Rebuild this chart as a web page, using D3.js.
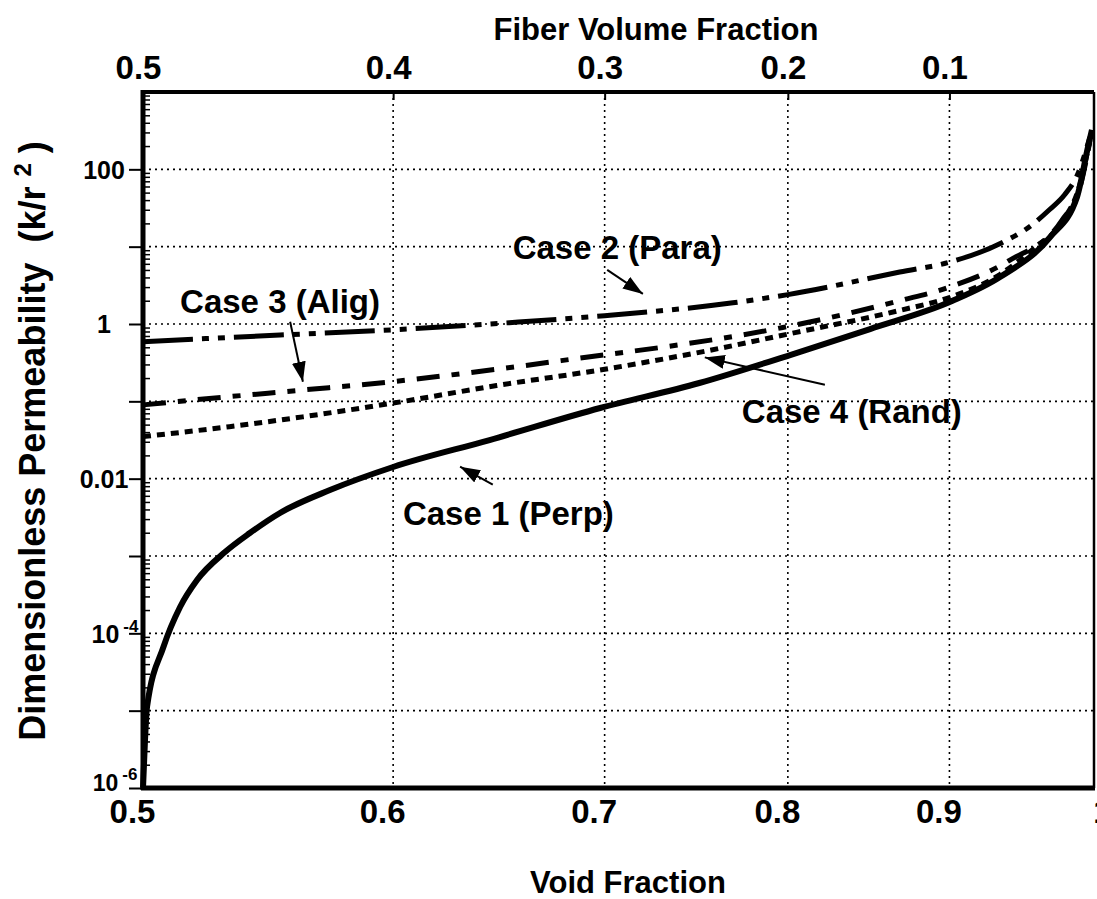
<!DOCTYPE html>
<html>
<head>
<meta charset="utf-8">
<script src="https://cdn.jsdelivr.net/npm/d3@7"></script>
<style>
  body { margin: 0; background: #fff; }
  svg { display: block; font-family: "Liberation Sans", Arial, Helvetica, sans-serif; font-weight: bold; }
  .grid line { stroke: #000; stroke-width: 1.6; stroke-dasharray: 2,4; }
  .curve { fill: none; stroke: #000; stroke-linejoin: round; }
  .axis path { display: none; }
  .axis line { stroke: #000; stroke-width: 2; }
  .axis text { fill: #000; font-family: "Liberation Sans", Arial, Helvetica, sans-serif; font-weight: bold; }
</style>
</head>
<body>
<svg id="chart" width="1097" height="899"></svg>
<script>
// Permeability vs. void fraction

// Case 1 (Perp) - solid
const case1Void = [0.5, 0.50073, 0.50146, 0.5075, 0.5137, 0.5201, 0.5308, 0.5405, 0.5525, 0.573, 0.60, 0.6437, 0.6977, 0.75, 0.8013, 0.8494, 0.9017, 0.9338, 0.9685, 0.9877, 0.9956, 0.9985];
const case1Perm = [1e-6, 4.17e-6, 1.11e-5, 6.65e-5, 2.19e-4, 4.89e-4, 1.125e-3, 1.98e-3, 3.6e-3, 7.13e-3, 0.01416, 0.0316, 0.082, 0.1726, 0.397, 0.861, 1.98, 4.05, 13.3, 43.9, 194, 323];

// Case 2 (Para) - dash dot dot
const case2Void = [0.5, 0.5525, 0.6, 0.653, 0.70, 0.7686, 0.80, 0.868, 0.90, 0.934, 0.9556, 0.968, 0.9788, 0.988, 0.997];
const case2Perm = [0.59, 0.72, 0.84, 1.04, 1.28, 1.88, 2.4, 4.7, 6.3, 11, 19, 30, 47, 85, 260];

// Case 3 (Alig) - dash dot
const case3Void = [0.5, 0.5325, 0.5617, 0.6, 0.647, 0.70, 0.7325, 0.797, 0.868, 0.90, 0.94, 0.977, 0.99, 0.997];
const case3Perm = [0.09, 0.115, 0.14, 0.18, 0.26, 0.40, 0.51, 0.9, 2.0, 3.0, 6.6, 22, 60, 230];

// Case 4 (Rand) - dotted
const case4Void = [0.5, 0.5325, 0.5617, 0.6, 0.647, 0.70, 0.75, 0.805, 0.868, 0.90, 0.934, 0.956, 0.976, 0.99, 0.997];
const case4Perm = [0.035, 0.047, 0.063, 0.095, 0.16, 0.26, 0.43, 0.78, 1.5, 2.2, 4.4, 9.1, 20, 66, 240];

// tick values and labels
const voidTicks = [0.5, 0.6, 0.7, 0.8, 0.9, 1];
const voidLabels = ['0.5', '0.6', '0.7', '0.8', '0.9', '1'];
const fiberTicks = [0.5, 0.6, 0.7, 0.8, 0.9];          // positions in void fraction
const fiberLabels = ['0.5', '0.4', '0.3', '0.2', '0.1'];
const permTicks = [1e-6, 1e-5, 1e-4, 1e-3, 1e-2, 1e-1, 1, 10, 100];
const permLabelBase = {'-6': '10', '-4': '10', '-2': '0.01', '0': '1', '2': '100'};
const permLabelExp = {'-6': '-6', '-4': '-4'};

// annotations: label anchor and arrow (from -> to), in data units
const caseNotes = [
    {text: 'Case 1 (Perp)', tv: 0.6043, tk: 0.00255, fv: 0.6452, fk: 0.00837, av: 0.630, ak: 0.0143},
    {text: 'Case 2 (Para)', tv: 0.6546, tk: 6.95, fv: 0.7013, fk: 5.0, av: 0.7198, ak: 2.45},
    {text: 'Case 3 (Alig)', tv: 0.5137, tk: 1.40, fv: 0.5566, fk: 1.07, av: 0.5618, ak: 0.179},
    {text: 'Case 4 (Rand)', tv: 0.7736, tk: 0.0529, fv: 0.8219, fk: 0.164, av: 0.753, ak: 0.37}
];

const svg = d3.select('#chart');
const plot = {left: 143, right: 1094, top: 92, bottom: 788};

// scales (both axes logarithmic)
const x = d3.scaleLog().domain([0.5, 1]).range([plot.left, plot.right]);
const y = d3.scaleLog().domain([1e-6, 1e3]).range([plot.bottom, plot.top]);

// dotted grid
const grid = svg.append('g').attr('class', 'grid');
grid.selectAll('.gx')
    .data([0.6, 0.7, 0.8, 0.9])
    .enter().append('line')
    .attr('x1', d => x(d)).attr('x2', d => x(d))
    .attr('y1', plot.top).attr('y2', plot.bottom);
grid.selectAll('.gy')
    .data(permTicks.slice(1))
    .enter().append('line')
    .attr('x1', plot.left).attr('x2', plot.right)
    .attr('y1', d => y(d)).attr('y2', d => y(d));

// bottom axis (void fraction)
const bottomAxis = svg.append('g')
    .attr('class', 'axis')
    .attr('transform', `translate(0,${plot.bottom})`)
    .call(d3.axisBottom(x).tickValues(voidTicks).tickSize(0)
        .tickFormat((d, i) => voidLabels[i]));
bottomAxis.selectAll('text')
    .attr('y', 35).attr('dy', null)
    .attr('dx', d => d === 1 ? 8 : -11)
    .style('font-size', '33px');

// top axis (fiber volume fraction = 1 - void)
const topAxis = svg.append('g')
    .attr('class', 'axis')
    .attr('transform', `translate(0,${plot.top})`)
    .call(d3.axisTop(x).tickValues(fiberTicks).tickSize(-8)
        .tickFormat((d, i) => fiberLabels[i]));
topAxis.selectAll('text')
    .attr('y', -13).attr('dy', null).attr('dx', -5)
    .style('font-size', '33px');

// left axis, decade ticks outside
const leftAxis = svg.append('g')
    .attr('class', 'axis')
    .attr('transform', `translate(${plot.left},0)`)
    .call(d3.axisLeft(y).tickValues(permTicks).tickSize(14).tickFormat(''));
leftAxis.selectAll('.tick text').each(function(d) {
    const e = String(Math.round(Math.log10(d)));
    const t = d3.select(this)
        .attr('x', -39).attr('dy', '0.35em')
        .attr('text-anchor', 'middle')
        .style('font-size', '25px');
    if (!(e in permLabelBase)) return;
    t.append('tspan').text(permLabelBase[e]);
    if (e in permLabelExp) {
        t.attr('x', -28);
        t.append('tspan').attr('dy', -11).attr('dx', 4)
            .style('font-size', '17px').text(permLabelExp[e]);
    }
    // lowest label sits a little higher, clear of the 0.5 below it
    if (e === '-6') t.attr('y', -6).style('font-size', '23px');
});

// left axis minor ticks inside
const minorTicks = [];
for (let e = -6; e < 3; e++) {
    for (let m = 2; m < 10; m++) minorTicks.push(m * Math.pow(10, e));
}
svg.append('g')
    .attr('class', 'axis')
    .attr('transform', `translate(${plot.left},0)`)
    .call(d3.axisRight(y).tickValues(minorTicks).tickSize(7).tickFormat(''))
    .selectAll('line').style('stroke-width', 1.5);

// frame
const frame = svg.append('g').attr('stroke', '#000');
frame.append('line').attr('x1', plot.left - 2).attr('x2', plot.right)
    .attr('y1', plot.top).attr('y2', plot.top).attr('stroke-width', 4);
frame.append('line').attr('x1', plot.left - 2).attr('x2', plot.right + 1)
    .attr('y1', plot.bottom).attr('y2', plot.bottom).attr('stroke-width', 5);
frame.append('line').attr('x1', plot.left).attr('x2', plot.left)
    .attr('y1', plot.top - 2).attr('y2', plot.bottom + 2).attr('stroke-width', 5);
frame.append('line').attr('x1', plot.right).attr('x2', plot.right)
    .attr('y1', plot.top).attr('y2', plot.bottom).attr('stroke-width', 2.5);

// curves
const series = [
    {v: case1Void, k: case1Perm, dash: null, w: 6},
    {v: case2Void, k: case2Perm, dash: '50,9,7,9,7,9', w: 5},
    {v: case3Void, k: case3Perm, dash: '23,12,8,12', w: 5},
    {v: case4Void, k: case4Perm, dash: '8,6', w: 5}
];

const line = d3.line()
    .x(d => x(d[0]))
    .y(d => y(d[1]))
    .curve(d3.curveMonotoneX);

series.forEach(s => {
    svg.append('path')
        .datum(d3.zip(s.v, s.k))
        .attr('class', 'curve')
        .attr('d', line)
        .attr('stroke-width', s.w)
        .attr('stroke-dasharray', s.dash);
});

// arrow marker
svg.append('defs').append('marker')
    .attr('id', 'head')
    .attr('viewBox', '0 0 10 7')
    .attr('refX', 10).attr('refY', 3.5)
    .attr('markerWidth', 10).attr('markerHeight', 7)
    .attr('markerUnits', 'strokeWidth')
    .attr('orient', 'auto')
    .append('path').attr('d', 'M0,0L10,3.5L0,7Z').attr('fill', '#000');

// case labels and arrows
caseNotes.forEach(n => {
    svg.append('line')
        .attr('x1', x(n.fv)).attr('y1', y(n.fk))
        .attr('x2', x(n.av)).attr('y2', y(n.ak))
        .attr('stroke', '#000').attr('stroke-width', 2)
        .attr('marker-end', 'url(#head)');
    svg.append('text')
        .attr('x', x(n.tv)).attr('y', y(n.tk))
        .style('font-size', '33px')
        .text(n.text);
});

// axis titles
svg.append('text')
    .attr('x', 656).attr('y', 40)
    .attr('text-anchor', 'middle')
    .style('font-size', '31px')
    .text('Fiber Volume Fraction');

svg.append('text')
    .attr('x', 628).attr('y', 893)
    .attr('text-anchor', 'middle')
    .style('font-size', '31px')
    .text('Void Fraction');

const yTitle = svg.append('text')
    .attr('transform', 'translate(45,441) rotate(-90)')
    .attr('text-anchor', 'middle')
    .style('font-size', '36px')
    .style('white-space', 'pre');
yTitle.append('tspan').text('Dimensionless Permeability  (k/r ');
yTitle.append('tspan').attr('dy', -14).style('font-size', '24px').text('2');
yTitle.append('tspan').attr('dy', 14).text(' )');
</script>
</body>
</html>
